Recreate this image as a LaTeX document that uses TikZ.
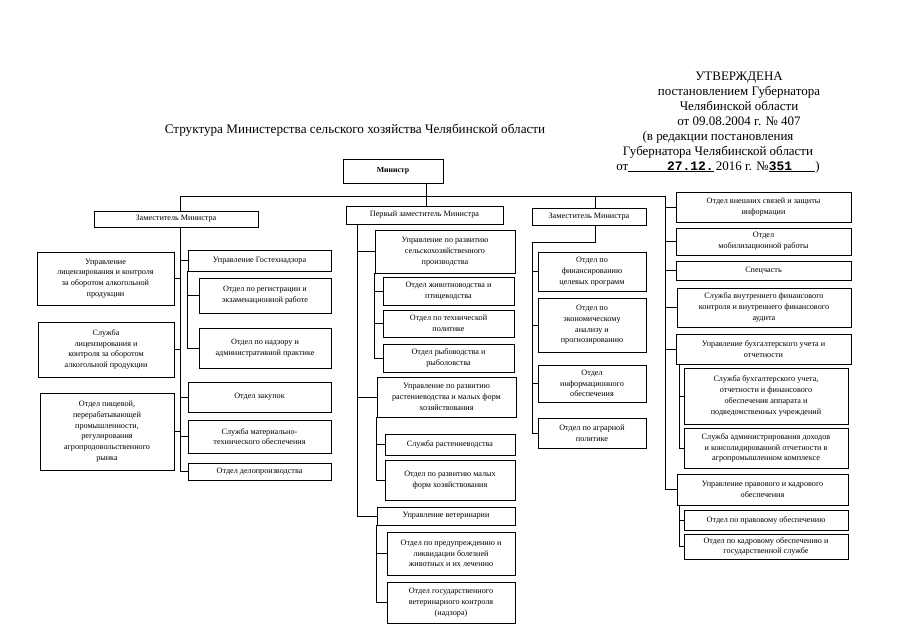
\documentclass[tikz,border=0pt]{standalone}
\usepackage{fontspec}
\setmainfont{Liberation Serif}
\setmonofont{Liberation Mono}
\usetikzlibrary{positioning,calc}

\begin{document}
\begin{tikzpicture}[x=1bp, y=-1bp,
    box/.style={draw, line width=0.9pt, align=center, inner sep=1.5bp,
        font=\fontsize{8.2}{10.8}\selectfont},
    head/.style={align=center, font=\fontsize{13}{15}\selectfont},
    link/.style={line width=0.7pt}]
    \useasboundingbox (0,0) rectangle (905,640);

    % --- Approval stamp and title ---
    \node[head] (appr) at (739,98.5) {УТВЕРЖДЕНА\\постановлением Губернатора\\Челябинской области\\от 09.08.2004 г. № 407};
    \node[head] (edit) at (718,152) {(в редакции постановления\\Губернатора Челябинской области\\от\underline{\hspace{3em}\textbf{\ttfamily 27.12.}}\,2016 г. №\underline{\textbf{\ttfamily 351}\hspace{1.8em}})};
    \node[font=\fontsize{13.2}{15}\selectfont] (title) at (355,130) {Структура Министерства сельского хозяйства Челябинской области};

    % --- Minister and deputies ---
    \node[box, minimum width=100bp, minimum height=24bp, font=\fontsize{7.8}{9}\selectfont\bfseries] (min) at (393,171) {Министр};
    \node[box, minimum width=164bp, minimum height=16bp] (zm1) at (176,219) {Заместитель Министра};
    \node[box, minimum width=157bp, minimum height=18bp] (pz) at (424.5,215) {Первый заместитель Министра};
    \node[box, minimum width=114bp, minimum height=17bp] (zm2) at (589,216.5) {Заместитель Министра};

    % --- Under the deputy minister (left) ---
    \node[box, minimum width=137bp, minimum height=53bp] (lic) at (105.5,278.5) {Управление\\лицензирования и контроля\\за оборотом алкогольной\\продукции};
    \node[box, minimum width=136bp, minimum height=55bp] (slic) at (106,349.5) {Служба\\лицензирования и\\контроля за оборотом\\алкогольной продукции};
    \node[box, minimum width=134bp, minimum height=77bp] (pish) at (107,431.5) {Отдел пищевой,\\перерабатывающей\\промышленности,\\регулирования\\агропродовольственного\\рынка};
    \node[box, minimum width=143bp, minimum height=21bp] (gtn) at (259.5,260.5) {Управление Гостехнадзора};
    \node[box, minimum width=132bp, minimum height=35bp] (reg) at (265,295.5) {Отдел по регистрации и\\экзаменационной работе};
    \node[box, minimum width=132bp, minimum height=40bp] (nadz) at (265,348) {Отдел по надзору и\\административной практике};
    \node[box, minimum width=143bp, minimum height=30bp] (zak) at (259.5,397) {Отдел закупок};
    \node[box, minimum width=143bp, minimum height=33bp] (mto) at (259.5,436.5) {Служба материально-\\технического обеспечения};
    \node[box, minimum width=143bp, minimum height=17bp] (del) at (259.5,471.5) {Отдел делопроизводства};

    % --- Under the first deputy minister ---
    \node[box, minimum width=140bp, minimum height=43bp] (urs) at (445,251.5) {Управление по развитию\\сельскохозяйственного\\производства};
    \node[box, minimum width=131bp, minimum height=28bp] (zhiv) at (448.5,291) {Отдел животноводства и\\птицеводства};
    \node[box, minimum width=131bp, minimum height=27bp] (tehn) at (448.5,323.5) {Отдел по технической\\политике};
    \node[box, minimum width=131bp, minimum height=28bp] (ryb) at (448.5,358) {Отдел рыбоводства и\\рыболовства};
    \node[box, minimum width=139bp, minimum height=40bp] (urr) at (446.5,397) {Управление по развитию\\растениеводства и малых форм\\хозяйствования};
    \node[box, minimum width=130bp, minimum height=21bp] (rast) at (450,444.5) {Служба растениеводства};
    \node[box, minimum width=130bp, minimum height=40bp] (mfh) at (450,480) {Отдел по развитию малых\\форм хозяйствования};
    \node[box, minimum width=138bp, minimum height=18bp] (vet) at (446,516) {Управление ветеринарии};
    \node[box, minimum width=128bp, minimum height=43bp] (bol) at (451,553.5) {Отдел по предупреждению и\\ликвидации болезней\\животных и их лечению};
    \node[box, minimum width=128bp, minimum height=41bp] (gvk) at (451,602.5) {Отдел государственного\\ветеринарного контроля\\(надзора)};

    % --- Under the deputy minister (right) ---
    \node[box, minimum width=108bp, minimum height=39bp] (fin) at (592,271.5) {Отдел по\\финансированию\\целевых программ};
    \node[box, minimum width=108bp, minimum height=54bp] (econ) at (592,325) {Отдел по\\экономическому\\анализу и\\прогнозированию};
    \node[box, minimum width=108bp, minimum height=37bp] (info) at (592,383.5) {Отдел\\информационного\\обеспечения};
    \node[box, minimum width=108bp, minimum height=30bp] (agr) at (592,433) {Отдел по аграрной\\политике};

    % --- Directly under the minister ---
    \node[box, minimum width=175bp, minimum height=30bp] (vns) at (763.5,207) {Отдел внешних связей и защиты\\информации};
    \node[box, minimum width=175bp, minimum height=27bp] (mob) at (763.5,241.5) {Отдел\\мобилизационной работы};
    \node[box, minimum width=175bp, minimum height=19bp] (spec) at (763.5,270.5) {Спецчасть};
    \node[box, minimum width=174bp, minimum height=39bp] (vfk) at (764,307.5) {Служба внутреннего финансового\\контроля и внутреннего финансового\\аудита};
    \node[box, minimum width=175bp, minimum height=30bp] (ubu) at (763.5,349) {Управление бухгалтерского учета и\\отчетности};
    \node[box, minimum width=164bp, minimum height=56bp] (sbu) at (766,396) {Служба бухгалтерского учета,\\отчетности и финансового\\обеспечения аппарата и\\подведомственных учреждений};
    \node[box, minimum width=164bp, minimum height=40bp] (sad) at (766,448) {Служба администрирования доходов\\и консолидированной отчетности в\\агропромышленном комплексе};
    \node[box, minimum width=171bp, minimum height=31bp] (upk) at (762.5,489.5) {Управление правового и кадрового\\обеспечения};
    \node[box, minimum width=164bp, minimum height=20bp] (prav) at (766,520) {Отдел по правовому обеспечению};
    \node[box, minimum width=164bp, minimum height=25bp] (kadr) at (766,546.5) {Отдел по кадровому обеспечению и\\государственной службе};

    % --- Top bar ---
    \coordinate (barL) at (180,196);
    \coordinate (barR) at (665,196);
    \coordinate (mbus) at (426,196);
    \coordinate (bus2) at (595,196);
    \draw[link] (min.south -| mbus) -- (pz.north -| mbus);
    \draw[link] (zm1.north -| barL) -- (barL) -- (barR);
    \draw[link] (bus2) -- (zm2.north -| bus2);

    % Left deputy
    \draw[link] (zm1.south -| barL) |- (del.west);
    \foreach \b in {gtn,zak,mto}
        \draw[link] (barL |- \b.west) -- (\b.west);
    \foreach \b in {lic,slic,pish}
        \draw[link] (\b.east) -- (\b.east -| barL);
    \draw[link] (gtn.south west) |- (nadz.west);
    \draw[link] (gtn.south west |- reg.west) -- (reg.west);

    % First deputy
    \coordinate (pbus) at (357,224);
    \draw[link] (pz.south -| pbus) |- (vet.west);
    \foreach \b in {urs,urr}
        \draw[link] (pbus |- \b.west) -- (\b.west);
    \draw[link] (urs.south west) |- (ryb.west);
    \foreach \b in {zhiv,tehn}
        \draw[link] (urs.south west |- \b.west) -- (\b.west);
    \draw[link] (urr.south west) |- (mfh.west);
    \draw[link] (urr.south west |- rast.west) -- (rast.west);
    \draw[link] (vet.south west) |- (gvk.west);
    \draw[link] (vet.south west |- bol.west) -- (bol.west);

    % Right deputy
    \coordinate (zbus) at (532,242);
    \draw[link] (zm2.south -| bus2) |- (zbus) |- (agr.west);
    \foreach \b in {fin,econ,info}
        \draw[link] (zbus |- \b.west) -- (\b.west);

    % Minister's own units
    \draw[link] (barR) |- (upk.west);
    \foreach \b in {vns,mob,spec,vfk,ubu}
        \draw[link] (barR |- \b.west) -- (\b.west);
    \coordinate (ubus) at ([xshift=4bp]ubu.south west);
    \draw[link] (ubus) |- (sad.west);
    \draw[link] (ubus |- sbu.west) -- (sbu.west);
    \coordinate (kbus) at ([xshift=3bp]upk.south west);
    \draw[link] (kbus) |- (kadr.west);
    \draw[link] (kbus |- prav.west) -- (prav.west);
\end{tikzpicture}
\end{document}
